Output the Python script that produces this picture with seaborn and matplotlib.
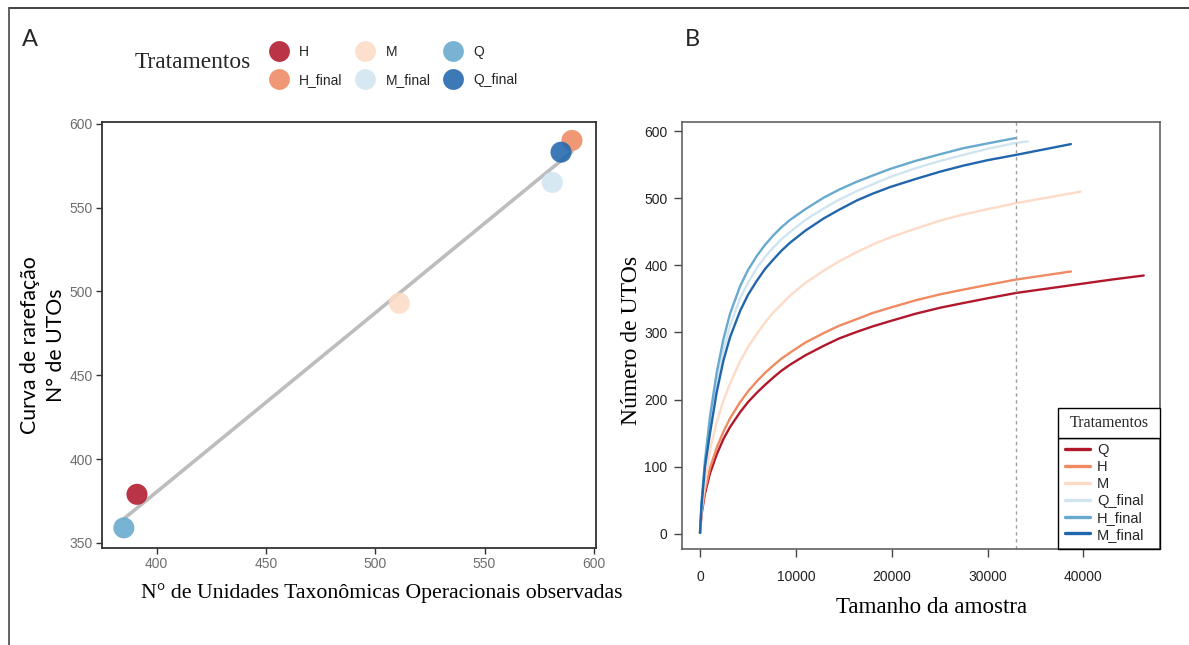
import numpy as np
import pandas as pd
import matplotlib
matplotlib.use("Agg")
import matplotlib.pyplot as plt
from matplotlib.lines import Line2D
from matplotlib.patches import Rectangle
import seaborn as sns

# ---------------- Panel A data ----------------
treat_a = ["H", "H_final", "M", "M_final", "Q", "Q_final"]
otus_obs = [391, 590, 511, 581, 385, 585]
otus_rare = [379, 590, 493, 565, 359, 583]
colors_a = ["#b2182b", "#ef8a62", "#fddbc7", "#d1e5f0", "#67a9cf", "#2166ac"]

# ---------------- Panel B data ----------------
names_b = ["Q", "H", "M", "Q_final", "H_final", "M_final"]
colors_b = ["#b2182b", "#ef8a62", "#fddbc7", "#d1e5f0", "#67a9cf", "#2166ac"]
x_read = [1, 150, 520, 1045, 1740, 2440, 3135, 4180, 5000, 5920, 6800, 7660, 8500,
          9400, 11000, 12890, 14500, 16370, 18000, 19850, 22500, 25080, 27500, 30000, 33000]
q_y = [1, 28, 60, 90, 118, 141, 159, 181, 196, 210, 222, 233, 243,
       252, 266, 280, 291, 301, 309, 317, 328, 337, 344, 351, 359]
h_y = [1, 30, 65, 98, 128, 152, 172, 196, 212, 227, 240, 251, 261,
       270, 285, 299, 310, 320, 329, 337, 348, 357, 364, 371, 379]
m_y = [1, 35, 75, 125, 166, 198, 224, 257, 278, 298, 315, 330, 342,
       355, 374, 392, 406, 420, 431, 442, 455, 467, 476, 484, 493]
qf_y = [1, 42, 100, 160, 224, 273, 310, 351, 374, 396, 413, 427, 439,
        450, 468, 485, 498, 511, 521, 532, 545, 556, 565, 574, 583]
hf_y = [1, 45, 110, 175, 240, 290, 328, 369, 393, 414, 431, 445, 457,
        468, 484, 501, 513, 525, 534, 544, 556, 566, 575, 582, 590]
mf_y = [1, 40, 100, 150, 211, 258, 293, 332, 356, 377, 395, 409, 422,
        434, 452, 470, 483, 497, 507, 517, 529, 540, 549, 557, 565]
q_tail_x, q_tail_y = [36500, 40000, 43000, 46300], [366, 373, 379, 385]
h_tail_x, h_tail_y = [38700], [391]
m_tail_x, m_tail_y = [39700], [510]
qf_tail_x, qf_tail_y = [34200], [585]
hf_last_x = 32900
mf_tail_x, mf_tail_y = [38700], [581]
cutoff = 33000

curves = {
    "Q": (x_read + q_tail_x, q_y + q_tail_y),
    "H": (x_read + h_tail_x, h_y + h_tail_y),
    "M": (x_read + m_tail_x, m_y + m_tail_y),
    "Q_final": (x_read + qf_tail_x, qf_y + qf_tail_y),
    "H_final": (x_read[:-1] + [hf_last_x], hf_y),
    "M_final": (x_read + mf_tail_x, mf_y + mf_tail_y),
}

sns.set_theme(style="white")
plt.rcParams["font.family"] = ["Liberation Sans", "DejaVu Sans"]

fig = plt.figure(figsize=(11.89, 6.45), dpi=100)
axA = fig.add_axes([102/1189, 1-548/645, 494/1189, 426/645])
axB = fig.add_axes([682/1189, 1-549/645, 478/1189, 427/645])

# ---------------- Panel A ----------------
dfa = pd.DataFrame({"obs": otus_obs, "rare": otus_rare, "trat": treat_a})
sns.regplot(data=dfa, x="obs", y="rare", scatter=False, ci=None, ax=axA,
            color="#bdbdbd", line_kws=dict(lw=2.6, zorder=1))
sns.scatterplot(data=dfa, x="obs", y="rare", hue="trat", palette=dict(zip(treat_a, colors_a)),
                s=230, alpha=0.88, edgecolor="none", legend=False, ax=axA, zorder=3)
axA.set_xlim(375, 601)
axA.set_ylim(347, 601)
axA.set_xticks([400, 450, 500, 550, 600])
axA.set_yticks([350, 400, 450, 500, 550, 600])
axA.tick_params(axis="both", which="both", direction="out", length=4, width=1,
                color="#333333", labelsize=10, labelcolor="#6e6e6e", pad=2.5,
                bottom=True, left=True)
for sp in axA.spines.values():
    sp.set_color("#333333")
    sp.set_linewidth(1.3)
    sp.set_visible(True)
axA.set_xlabel("N° de Unidades Taxonômicas Operacionais observadas",
               family="Liberation Serif", fontsize=15.7, color="black")
axA.xaxis.set_label_coords(0.567, -0.106)
axA.xaxis.label.set_va("center")
axA.set_ylabel("Curva de rarefação\nN° de UTOs", family="Lato", fontsize=15.3, color="black",
               linespacing=1.35)
axA.yaxis.set_label_coords(-0.12, 0.4765)
axA.yaxis.label.set_va("center")

handles = [Line2D([], [], ls="none", marker="o", markersize=15, markerfacecolor=c,
                  markeredgecolor="none", alpha=0.88) for c in colors_a]
fig.legend(handles, treat_a, ncol=3, loc="center left", bbox_to_anchor=(258/1189, 1-66/645),
           frameon=False, fontsize=10, handletextpad=0.85, columnspacing=1.05,
           labelspacing=1.0, handlelength=1.2)
fig.text(135/1189, 1-62/645, "Tratamentos", family="Liberation Serif", fontsize=16.8,
         ha="left", va="center")

# ---------------- Panel B ----------------
rows = []
for name in names_b:
    xs, ys = curves[name]
    for xv, yv in zip(xs, ys):
        rows.append((name, xv, yv))
dfb = pd.DataFrame(rows, columns=["trat", "n", "otus"])
sns.lineplot(data=dfb, x="n", y="otus", hue="trat", hue_order=names_b,
             palette=dict(zip(names_b, colors_b)), estimator=None, sort=True,
             lw=1.7, ax=axB, legend=False)
axB.axvline(cutoff, color="#a0a0a0", lw=1, ls=(0, (2.5, 2.5)))
axB.set_xlim(-1880, 48000)
axB.set_ylim(-23, 614)
axB.set_xticks([0, 10000, 20000, 30000, 40000])
axB.set_yticks([0, 100, 200, 300, 400, 500, 600])
axB.tick_params(axis="both", which="both", direction="out", length=6, width=1,
                color="#444444", labelsize=10, labelcolor="#222222",
                bottom=True, left=True)
axB.tick_params(axis="x", pad=9)
axB.tick_params(axis="y", pad=4.5)
for sp in axB.spines.values():
    sp.set_color("#555555")
    sp.set_linewidth(1.1)
    sp.set_visible(True)
axB.set_xlabel("Tamanho da amostra", family="Liberation Serif", fontsize=16.6, color="black")
axB.xaxis.set_label_coords(0.523, -0.138)
axB.xaxis.label.set_va("center")
axB.set_ylabel("Número de UTOs", family="Liberation Serif", fontsize=17, color="black")
axB.yaxis.set_label_coords(-0.106, 0.488)
axB.yaxis.label.set_va("center")

# legend of panel B with boxed title
x0, x1 = (1058-682)/478, (1160-682)/478
yb, yt = (549-438)/427, (549-408)/427
hb = [Line2D([], [], color=c, lw=2.4) for c in colors_b]
legB = axB.legend(hb, names_b, loc="upper left",
                  bbox_to_anchor=((1065-682)/478, (549-443)/427),
                  frameon=False, fontsize=10.5, handlelength=1.7,
                  handletextpad=0.48, labelspacing=0.2, borderpad=0.0,
                  borderaxespad=0.0)
axB.add_patch(Rectangle((x0, 0), x1 - x0, yb, transform=axB.transAxes, fill=False,
                        ec="black", lw=1.0, clip_on=False, zorder=4))
axB.add_patch(Rectangle((x0, yb), x1 - x0, yt - yb, transform=axB.transAxes, fc="white",
                        ec="black", lw=1.0, clip_on=False, zorder=4))
axB.text((x0 + x1)/2, (yb + yt)/2, "Tratamentos", transform=axB.transAxes,
         family="Liberation Serif", fontsize=11.5, ha="center", va="center", zorder=5)

# panel letters and outer frame
fig.text(22/1189, 1-40/645, "A", family="Lato", fontsize=17, ha="left", va="center")
fig.text(685/1189, 1-40/645, "B", family="Lato", fontsize=17, ha="left", va="center")
fig.add_artist(Line2D([9/1189, 1], [1-8/645, 1-8/645], transform=fig.transFigure,
                      color="#333333", lw=1.3))
fig.add_artist(Line2D([9/1189, 9/1189], [0, 1-8/645], transform=fig.transFigure,
                      color="#555555", lw=1.3))

fig.savefig("out.png", dpi=100)
